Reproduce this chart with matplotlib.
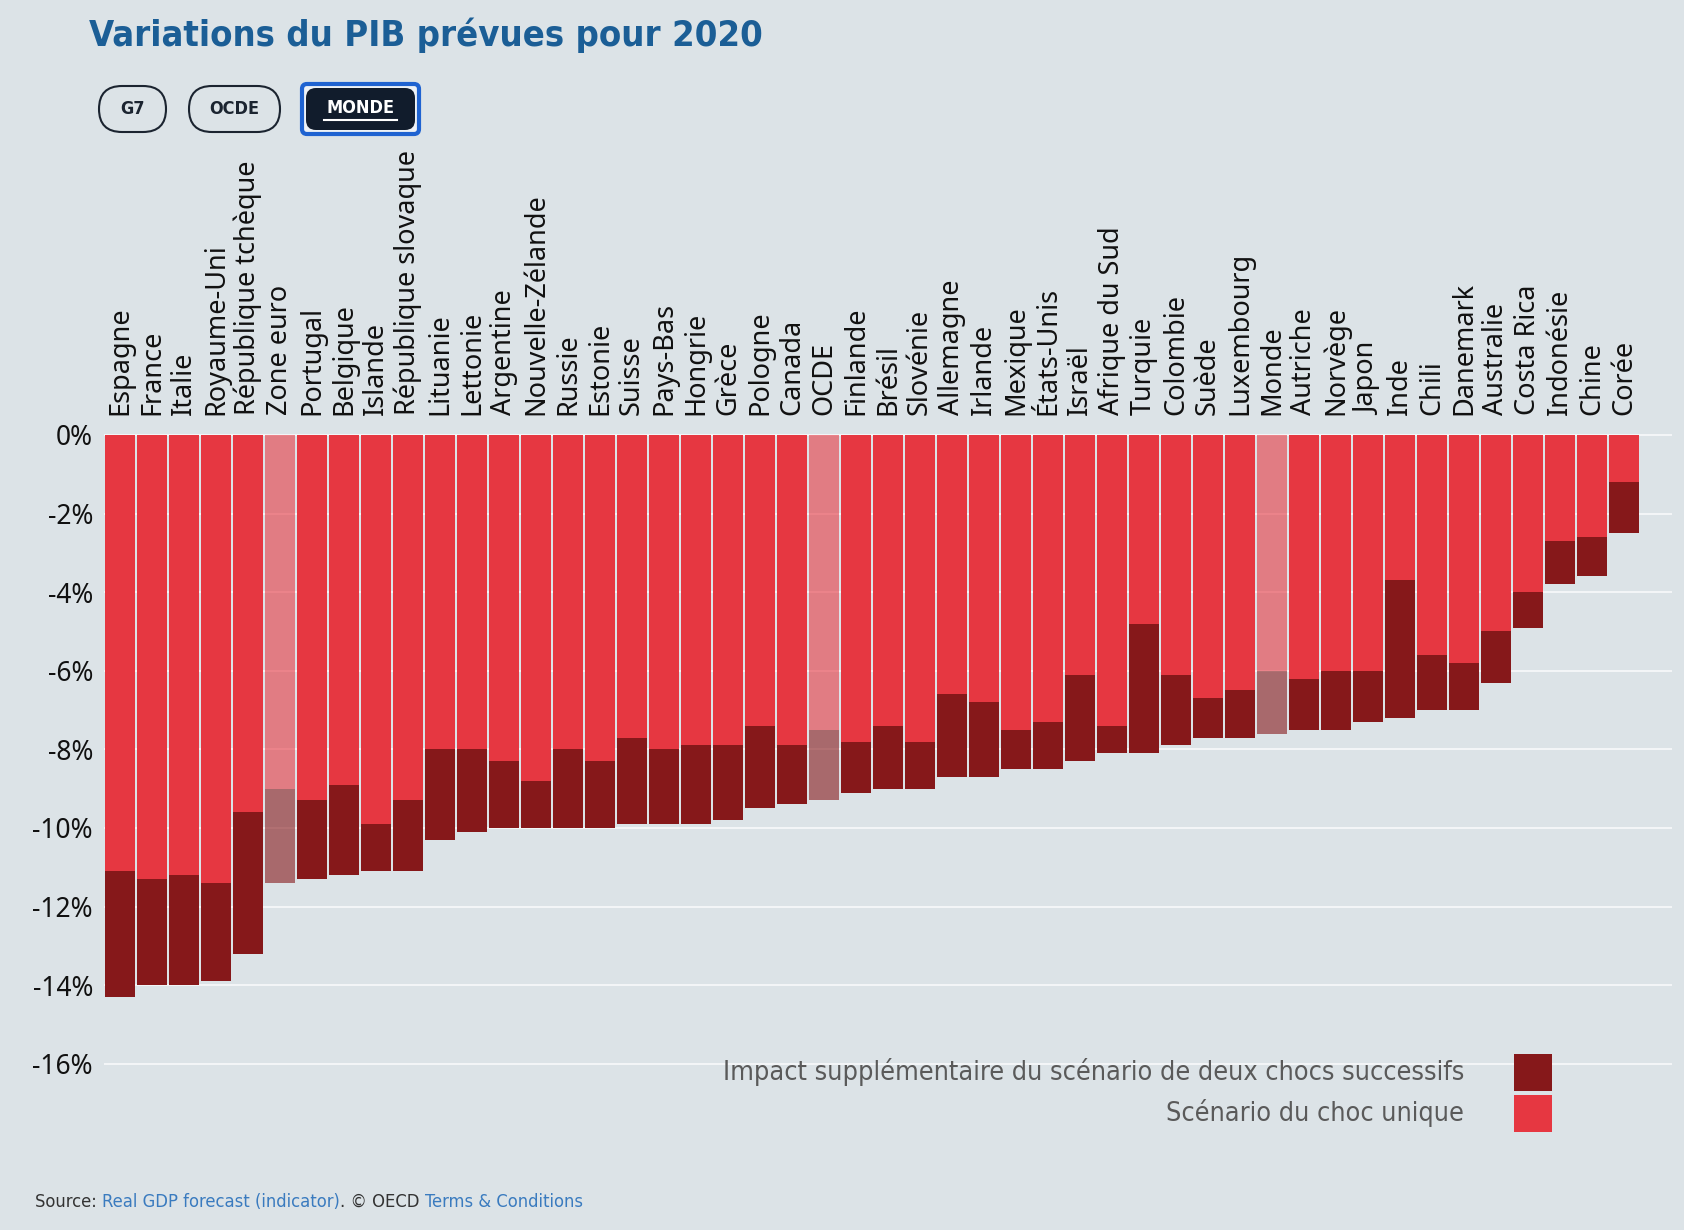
import matplotlib.pyplot as plt
from matplotlib.patches import FancyBboxPatch, Rectangle

countries = ["Espagne", "France", "Italie", "Royaume-Uni", "République tchèque",
             "Zone euro", "Portugal", "Belgique", "Islande", "République slovaque",
             "Lituanie", "Lettonie", "Argentine", "Nouvelle-Zélande", "Russie",
             "Estonie", "Suisse", "Pays-Bas", "Hongrie", "Grèce", "Pologne",
             "Canada", "OCDE", "Finlande", "Brésil", "Slovénie", "Allemagne",
             "Irlande", "Mexique", "États-Unis", "Israël", "Afrique du Sud",
             "Turquie", "Colombie", "Suède", "Luxembourg", "Monde", "Autriche",
             "Norvège", "Japon", "Inde", "Chili", "Danemark", "Australie",
             "Costa Rica", "Indonésie", "Chine", "Corée"]

# GDP change 2020 (%), single-hit scenario
single_hit = [-11.1, -11.3, -11.2, -11.4, -9.6, -9.0, -9.3, -8.9, -9.9, -9.3,
              -8.0, -8.0, -8.3, -8.8, -8.0, -8.3, -7.7, -8.0, -7.9, -7.9,
              -7.4, -7.9, -7.5, -7.8, -7.4, -7.8, -6.6, -6.8, -7.5, -7.3,
              -6.1, -7.4, -4.8, -6.1, -6.7, -6.5, -6.0, -6.2, -6.0, -6.0,
              -3.7, -5.6, -5.8, -5.0, -4.0, -2.7, -2.6, -1.2]
# GDP change 2020 (%), double-hit scenario
double_hit = [-14.3, -14.0, -14.0, -13.9, -13.2, -11.4, -11.3, -11.2, -11.1, -11.1,
              -10.3, -10.1, -10.0, -10.0, -10.0, -10.0, -9.9, -9.9, -9.9, -9.8,
              -9.5, -9.4, -9.3, -9.1, -9.0, -9.0, -8.7, -8.7, -8.5, -8.5,
              -8.3, -8.1, -8.1, -7.9, -7.7, -7.7, -7.6, -7.5, -7.5, -7.3,
              -7.2, -7.0, -7.0, -6.3, -4.9, -3.8, -3.6, -2.5]
aggregates = ["Zone euro", "OCDE", "Monde"]

BG = "#dce3e7"
RED = "#e63741"
DARK = "#86181a"

W, H = 1684, 1230
fig = plt.figure(figsize=(W / 100, H / 100), dpi=100, facecolor=BG)
r = fig.canvas.get_renderer()


def fit(t, target):
    # shrink/grow font so the text spans the same width as in the original
    w = t.get_window_extent(renderer=r).width
    t.set_fontsize(t.get_fontsize() * target / w)
    return t.get_fontsize()


ax = fig.add_axes([104 / W, 1 - 1142.4 / H, 1568 / W, 715.3 / H])
ax.set_facecolor(BG)

for i, c in enumerate(countries):
    a = 0.6 if c in aggregates else 1.0
    ax.bar(i, single_hit[i], width=0.93, color=RED, alpha=a, zorder=3)
    ax.bar(i, double_hit[i] - single_hit[i], bottom=single_hit[i], width=0.93,
           color=DARK, alpha=a, zorder=3)

ax.set_xlim(-0.5, len(countries) + 0.5)
ax.set_ylim(-18, 0.2)
yt = list(range(0, -17, -2))
ax.set_yticks(yt)
ax.set_yticklabels([f"{v}%" for v in yt], fontsize=19, family="Noto Sans", color="#111111")
ax.grid(axis="y", color="#f3f5f7", linewidth=1.5, zorder=0)
ax.tick_params(axis="y", length=0, pad=8)
ax.xaxis.tick_top()
ax.set_xticks(range(len(countries)))
ax.set_xticklabels(countries, rotation=90, fontsize=19.5, family="Noto Sans",
                   color="#111111", va="bottom", ha="center")
ax.tick_params(axis="x", length=0, pad=9)
for s in ax.spines.values():
    s.set_visible(False)

# overlay in pixel coordinates for header, buttons and legend
ov = fig.add_axes([0, 0, 1, 1], facecolor="none")
ov.set_xlim(0, W)
ov.set_ylim(H, 0)
ov.axis("off")

title = ov.text(89, 46, "Variations du PIB prévues pour 2020", family="DejaVu Sans",
                fontstretch="condensed", fontsize=33, fontweight="bold",
                color="#1b5e96", va="baseline")
fit(title, 676)

btn_font = dict(ha="center", va="center", fontsize=13, fontweight="bold",
                family="DejaVu Sans", fontstretch="condensed")
ov.add_patch(FancyBboxPatch((99, 86), 67, 46, boxstyle="round,pad=0,rounding_size=23",
                            fc="none", ec="#1b2430", lw=1.5))
ov.text(132.5, 109, "G7", color="#1b2430", **btn_font)
ov.add_patch(FancyBboxPatch((189, 86), 91, 46, boxstyle="round,pad=0,rounding_size=23",
                            fc="none", ec="#1b2430", lw=1.5))
ov.text(234.5, 109, "OCDE", color="#1b2430", **btn_font)
ov.add_patch(FancyBboxPatch((302, 84), 117, 50, boxstyle="round,pad=0,rounding_size=5",
                            fc="#eef2f7", ec="#1f63d1", lw=3))
ov.add_patch(FancyBboxPatch((306, 88), 109, 42, boxstyle="round,pad=0,rounding_size=10",
                            fc="#111c2c", ec="none"))
ov.text(360.5, 108, "MONDE", color="white", **btn_font)
ov.plot([324, 397], [120, 120], color="white", lw=1.5)

# legend
ov.add_patch(Rectangle((1514, 1054), 38, 37, fc=DARK, ec="none"))
ov.add_patch(Rectangle((1514, 1095), 38, 37, fc=RED, ec="none"))
l1 = ov.text(1464, 1072, "Impact supplémentaire du scénario de deux chocs successifs",
             ha="right", va="center", fontsize=23, family="DejaVu Sans",
             fontstretch="condensed", color="#5a5a5a")
fs = fit(l1, 745)
ov.text(1464, 1113, "Scénario du choc unique", ha="right", va="center",
        fontsize=fs, family="DejaVu Sans", fontstretch="condensed", color="#5a5a5a")

# source line
parts = [("Source: ", "#333333"), ("Real GDP forecast (indicator)", "#3a7bbf"),
         (". © OECD ", "#333333"), ("Terms & Conditions", "#3a7bbf")]
probe = ov.text(0, 0, "".join(p[0] for p in parts), fontsize=16,
                family="DejaVu Sans", fontstretch="condensed")
src_fs = fit(probe, 551)
probe.remove()
xpos = 35
for txt, col in parts:
    t = ov.text(xpos, 1202, txt, ha="left", va="center", fontsize=src_fs,
                family="DejaVu Sans", fontstretch="condensed", color=col)
    xpos += t.get_window_extent(renderer=r).width

fig.savefig("out.png", dpi=100, facecolor=BG)
